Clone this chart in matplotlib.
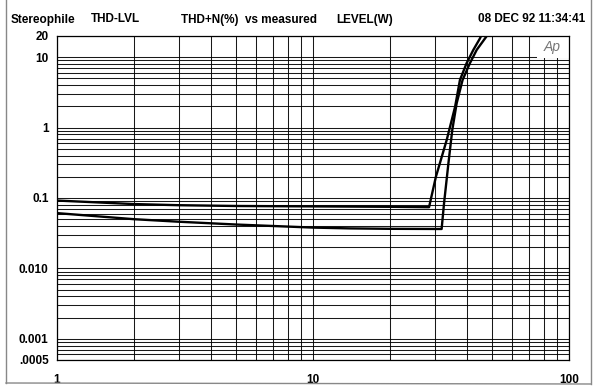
import matplotlib
matplotlib.use('Agg')
import matplotlib.pyplot as plt
from matplotlib.ticker import LogLocator, NullFormatter, FixedLocator, FixedFormatter
from matplotlib.patches import Rectangle
from matplotlib.lines import Line2D

W, H = 600, 389

# Trace 1 (upper): level in W, THD+N in %
LEVEL_A = [1, 2, 3, 5, 10, 20, 28.4, 30.2, 33.3, 35.9, 37.5, 39.8, 42.3, 44.9, 45.6]
THD_A = [0.092, 0.082, 0.079, 0.077, 0.076, 0.075, 0.074, 0.20, 0.67, 1.98, 4.75, 8.2, 12.7, 18.5, 21.0]

# Trace 2 (lower)
LEVEL_B = [1, 2, 3, 5, 10, 14, 20, 31.8, 32.5, 33.8, 35.0, 36.4, 38.4, 41.0, 43.6, 47.0, 48.2]
THD_B = [0.061, 0.050, 0.046, 0.042, 0.038, 0.037, 0.0365, 0.0363, 0.084, 0.31, 0.925, 2.21, 4.75, 8.2, 12.7, 18.5, 21.0]

Y_TICKS = [0.0005, 0.001, 0.01, 0.1, 1, 10, 20]
Y_LABELS = ['.0005', '0.001', '0.010', '0.1', '1', '10', '20']
X_TICKS = [1, 10, 100]
X_LABELS = ['1', '10', '100']

plt.rcParams.update({'font.family': ['Liberation Sans', 'DejaVu Sans'],
                     'font.size': 8.5,
                     'font.weight': 'bold'})

fig = plt.figure(figsize=(W/100, H/100), dpi=100)
ax = fig.add_axes([57/W, 1 - 360/H, 512/W, 324/H])

ax.set_xscale('log')
ax.set_yscale('log')
ax.set_xlim(1, 100)
ax.set_ylim(0.0005, 20)

# grid on every 1..9 subdivision of each decade
ax.xaxis.set_minor_locator(LogLocator(base=10, subs=range(1, 10), numticks=20))
ax.yaxis.set_minor_locator(LogLocator(base=10, subs=range(1, 10), numticks=20))
ax.xaxis.set_minor_formatter(NullFormatter())
ax.yaxis.set_minor_formatter(NullFormatter())
ax.xaxis.set_major_locator(FixedLocator(X_TICKS))
ax.xaxis.set_major_formatter(FixedFormatter(X_LABELS))
ax.yaxis.set_major_locator(FixedLocator(Y_TICKS))
ax.yaxis.set_major_formatter(FixedFormatter(Y_LABELS))
ax.grid(which='both', color='black', linewidth=0.75, alpha=0.9)
ax.set_axisbelow(True)
ax.tick_params(which='both', length=0)
ax.tick_params(axis='x', pad=10)
ax.tick_params(axis='y', pad=6)
for s in ax.spines.values():
    s.set_linewidth(0.9)

ax.plot(LEVEL_A, THD_A, color='black', linewidth=1.7, zorder=3)
ax.plot(LEVEL_B, THD_B, color='black', linewidth=1.7, zorder=3)

# "Ap" logo box in the top right corner
ax.add_patch(Rectangle((537/W*0 + (537 - 57)/512, (360 - 58)/324), (570 - 537)/512, 58/324,
                       transform=ax.transAxes, facecolor='white', edgecolor='none',
                       zorder=2, clip_on=True))
ax.text((552 - 57)/512, (360 - 47)/324, 'Ap', transform=ax.transAxes, ha='center', va='center',
        fontsize=10, fontstyle='italic', fontweight='normal', color='#777777', zorder=4)

# header line
hy = 1 - 19.5/H
fig.text(11/W, hy, 'Stereophile', ha='left', va='center')
fig.text(91/W, hy, 'THD-LVL', ha='left', va='center')
fig.text(181/W, hy, 'THD+N(%)  vs measured', ha='left', va='center')
fig.text(336/W, hy, 'LEVEL(W)', ha='left', va='center')
fig.text(585/W, hy, '08 DEC 92 11:34:41', ha='right', va='center')

# outer frame of the page
fig.add_artist(Line2D([6/W, 6/W], [1 - 383/H, 1], color='#888888', linewidth=1))
fig.add_artist(Line2D([591/W, 591/W], [1 - 384/H, 1], color='#888888', linewidth=1))
fig.add_artist(Line2D([6/W, 591/W], [1 - 383/H, 1 - 384/H], color='#888888', linewidth=1))

fig.savefig('out.png', dpi=100)
